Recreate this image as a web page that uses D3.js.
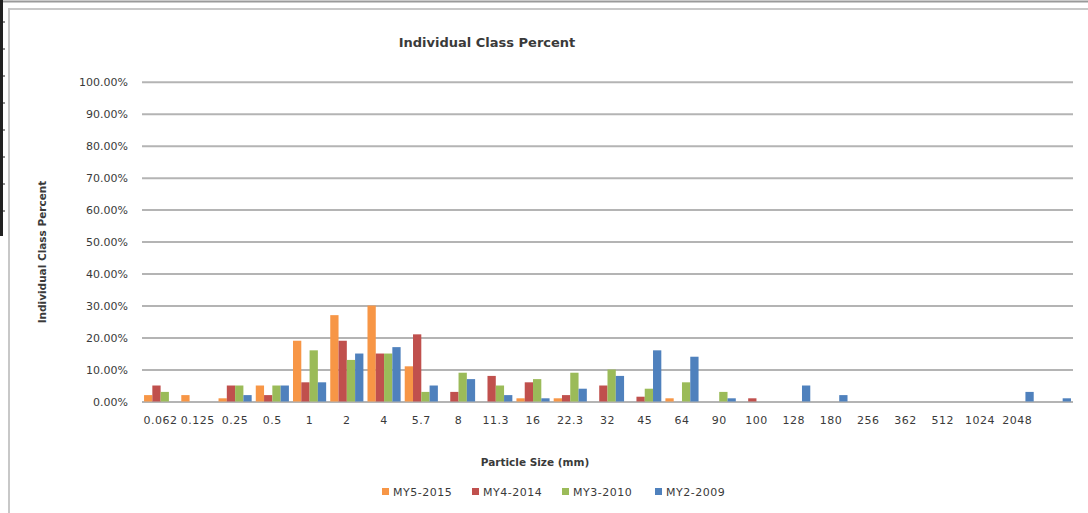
<!DOCTYPE html>
<html>
<head>
<meta charset="utf-8">
<script src="https://cdn.jsdelivr.net/npm/d3@7"></script>
<style>
  html, body { margin: 0; padding: 0; background: #fff; }
  svg { display: block; }
  text { font-family: "DejaVu Sans", sans-serif; fill: #3a3a3a; }
</style>
</head>
<body>
<svg id="chart" width="1088" height="513"></svg>
<script>
// Particle size classes (mm); the final class has no label
const categories = ["0.062","0.125","0.25","0.5","1","2","4","5.7","8","11.3","16","22.3","32","45","64","90","100","128","180","256","362","512","1024","2048",""];

// Percent of sample in each size class, per monitoring year
const seriesNames = ["MY5-2015","MY4-2014","MY3-2010","MY2-2009"];
const my5_2015 = [2,2,1,5,19,27,30,11,0,0,1,1,0,0,1,0,0,0,0,0,0,0,0,0,0];
const my4_2014 = [5,0,5,2,6,19,15,21,3,8,6,2,5,1.5,0,0,1,0,0,0,0,0,0,0,0];
const my3_2010 = [3,0,5,5,16,13,15,3,9,5,7,9,10,4,6,3,0,0,0,0,0,0,0,0,0];
const my2_2009 = [0,0,2,5,6,15,17,5,7,2,1,4,8,16,14,1,0,5,2,0,0,0,0,3,1];
const seriesColors = ["#F79646","#C0504D","#9BBB59","#4F81BD"];

const yTicks = [0,10,20,30,40,50,60,70,80,90,100];

const seriesValues = [my5_2015, my4_2014, my3_2010, my2_2009];
const rows = categories.map((c, i) => ({
  cat: c,
  vals: seriesNames.map((s, j) => ({ series: s, value: seriesValues[j][i], color: seriesColors[j] }))
}));

const svg = d3.select("#chart");

// Surrounding frame
svg.append("line").attr("x1", 0).attr("x2", 1088).attr("y1", 1.5).attr("y2", 1.5)
  .attr("stroke", "#9a9a9a").attr("stroke-width", 2);
svg.append("line").attr("x1", 1.5).attr("x2", 1.5).attr("y1", 0).attr("y2", 236)
  .attr("stroke", "#222").attr("stroke-width", 3);
d3.range(22, 236, 27).forEach(yy => {
  svg.append("line").attr("x1", 0).attr("x2", 5).attr("y1", yy).attr("y2", yy)
    .attr("stroke", "#222").attr("stroke-width", 1);
});
svg.append("rect").attr("x", 9).attr("y", 9).attr("width", 1090).attr("height", 520)
  .attr("fill", "#fff").attr("stroke", "#c8c8c8").attr("stroke-width", 2);

const plotLeft = 142, plotRight = 1073, plotTop = 81.7, plotBottom = 401.5;

const x = d3.scaleBand().domain(categories).range([plotLeft, plotRight])
  .paddingInner(0.11).paddingOuter(0.055);
const xs = d3.scaleBand().domain(seriesNames).range([0, x.bandwidth()]);
const y = d3.scaleLinear().domain([0, 100]).range([plotBottom, plotTop]);

// Gridlines and value axis
const yAxis = svg.append("g").attr("transform", `translate(${plotLeft},0)`)
  .call(d3.axisLeft(y).tickValues(yTicks).tickSize(-(plotRight - plotLeft)).tickPadding(14)
    .tickFormat(d => d.toFixed(2) + "%"));
yAxis.select(".domain").remove();
yAxis.selectAll(".tick line").attr("stroke", "#b4b4b4").attr("stroke-width", 2);
yAxis.selectAll(".tick text").style("font-family", "DejaVu Sans").attr("font-size", 11)
  .attr("fill", "#3a3a3a");

// Bars
const groups = svg.append("g").selectAll("g").data(rows).join("g")
  .attr("transform", d => `translate(${x(d.cat)},0)`);
groups.selectAll("rect").data(d => d.vals.filter(v => v.value > 0)).join("rect")
  .attr("x", d => xs(d.series))
  .attr("width", xs.bandwidth())
  .attr("y", d => y(d.value))
  .attr("height", d => y(0) - y(d.value))
  .attr("fill", d => d.color);

// Category axis
const xAxis = svg.append("g").attr("transform", `translate(0,${plotBottom})`)
  .call(d3.axisBottom(x).tickSize(0).tickPadding(15));
xAxis.select(".domain").remove();
xAxis.selectAll(".tick text").style("font-family", "DejaVu Sans").attr("font-size", 11)
  .attr("letter-spacing", 0.5).attr("fill", "#3a3a3a");

// Titles
svg.append("text").attr("x", 487).attr("y", 47).attr("text-anchor", "middle")
  .attr("font-size", 13).attr("font-weight", "bold").attr("fill", "#222")
  .text("Individual Class Percent");
svg.append("text").attr("transform", "translate(46,252) rotate(-90)").attr("text-anchor", "middle")
  .attr("font-size", 10.5).attr("font-weight", "bold").attr("fill", "#222")
  .text("Individual Class Percent");
svg.append("text").attr("x", 535).attr("y", 466).attr("text-anchor", "middle")
  .attr("font-size", 10.5).attr("font-weight", "bold").attr("fill", "#222")
  .text("Particle Size (mm)");

// Legend
const legendX = [382, 472, 562, 655];
const legend = svg.append("g").selectAll("g").data(seriesNames).join("g")
  .attr("transform", (d, i) => `translate(${legendX[i]},488)`);
legend.append("rect").attr("width", 7).attr("height", 7).attr("fill", (d, i) => seriesColors[i]);
legend.append("text").attr("x", 11).attr("y", 7.5).attr("font-size", 11).attr("letter-spacing", 0.5)
  .text(d => d);
</script>
</body>
</html>
